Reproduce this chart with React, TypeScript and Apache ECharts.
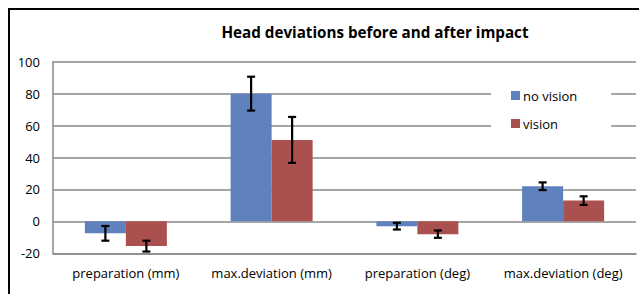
import React, { useEffect, useRef } from "react";
import * as echarts from "echarts";

const categories = ["preparation (mm)", "max.deviation (mm)", "preparation (deg)", "max.deviation (deg)"];
const noVision = [-7.5, 80, -3, 22];
const noVisionErr = [4.6, 10.6, 2.1, 2.4];
const vision = [-15.5, 51, -8, 13];
const visionErr = [3.4, 14.4, 2.3, 2.7];
const yTicks = { min: -20, max: 100, interval: 20 };
const title = "Head deviations before and after impact";

const FONT = "'Open Sans', sans-serif";
const BAR_W = 41;

function errSeries(name: string, values: number[], errs: number[], offset: number) {
  return {
    type: "custom",
    name: name + " err",
    z: 10,
    data: values.map((v, i) => [i, v, errs[i]]),
    renderItem: (params: any, api: any) => {
      const i = api.value(0);
      const v = api.value(1);
      const e = api.value(2);
      const top = api.coord([i, v + e]);
      const bot = api.coord([i, v - e]);
      const x = top[0] + offset;
      const cap = 4;
      const style = { stroke: "#000", lineWidth: 2.2, fill: "none" };
      return {
        type: "group",
        children: [
          { type: "line", shape: { x1: x, y1: top[1], x2: x, y2: bot[1] }, style },
          { type: "line", shape: { x1: x - cap, y1: top[1], x2: x + cap, y2: top[1] }, style },
          { type: "line", shape: { x1: x - cap, y1: bot[1], x2: x + cap, y2: bot[1] }, style },
        ],
      };
    },
  };
}

export default function App() {
  const ref = useRef<HTMLDivElement>(null);
  useEffect(() => {
    if (!ref.current) return;
    const chart = echarts.init(ref.current, null, { renderer: "svg" });
    chart.setOption({
      animation: false,
      backgroundColor: "#fff",
      textStyle: { fontFamily: FONT },
      grid: { left: 53, right: 3, top: 61.7, bottom: 40.7, containLabel: false },
      graphic: [
        {
          type: "rect",
          shape: { x: 9, y: 9, width: 700, height: 400 },
          style: { fill: "none", stroke: "#000", lineWidth: 2 },
          z: 100,
        },
        {
          type: "text",
          x: 375,
          y: 32,
          style: {
            text: title,
            fontFamily: FONT,
            fontWeight: "bold",
            fontSize: 15.2,
            fill: "#000",
            textAlign: "center",
            textVerticalAlign: "middle",
          },
        },
      ],
      legend: {
        orient: "vertical",
        left: 491,
        top: 81,
        padding: [8, 34, 8, 20],
        backgroundColor: "#fff",
        itemWidth: 9,
        itemHeight: 9,
        itemGap: 15,
        icon: "rect",
        z: 5,
        data: ["no vision", "vision"],
        textStyle: { fontFamily: FONT, fontSize: 13, color: "#000", padding: [0, 0, 0, -2] },
      },
      xAxis: {
        type: "category",
        data: categories,
        axisLine: { onZero: false, lineStyle: { color: "#888", width: 1.5 } },
        axisTick: { show: false },
        axisLabel: { interval: 0, color: "#000", fontSize: 13, margin: 13, fontFamily: FONT },
      },
      yAxis: {
        type: "value",
        min: yTicks.min,
        max: yTicks.max,
        interval: yTicks.interval,
        axisLine: { show: true, lineStyle: { color: "#888", width: 1.5 } },
        axisTick: { show: false },
        axisLabel: { color: "#000", fontSize: 13, margin: 13, fontFamily: FONT },
        splitLine: { lineStyle: { color: "#888", width: 1.5 } },
      },
      series: [
        {
          type: "bar",
          name: "no vision",
          data: noVision,
          barWidth: BAR_W,
          barGap: "0%",
          itemStyle: { color: "#5F81BD" },
          z: 2,
        },
        {
          type: "bar",
          name: "vision",
          data: vision,
          barWidth: BAR_W,
          barGap: "0%",
          itemStyle: { color: "#AA514F" },
          z: 2,
        },
        errSeries("no vision", noVision, noVisionErr, -BAR_W / 2),
        errSeries("vision", vision, visionErr, BAR_W / 2),
      ],
    });
    return () => chart.dispose();
  }, []);
  return (
    <div
      ref={ref}
      style={{ position: "absolute", left: 0, top: 0, width: 639, height: 294 }}
    />
  );
}
